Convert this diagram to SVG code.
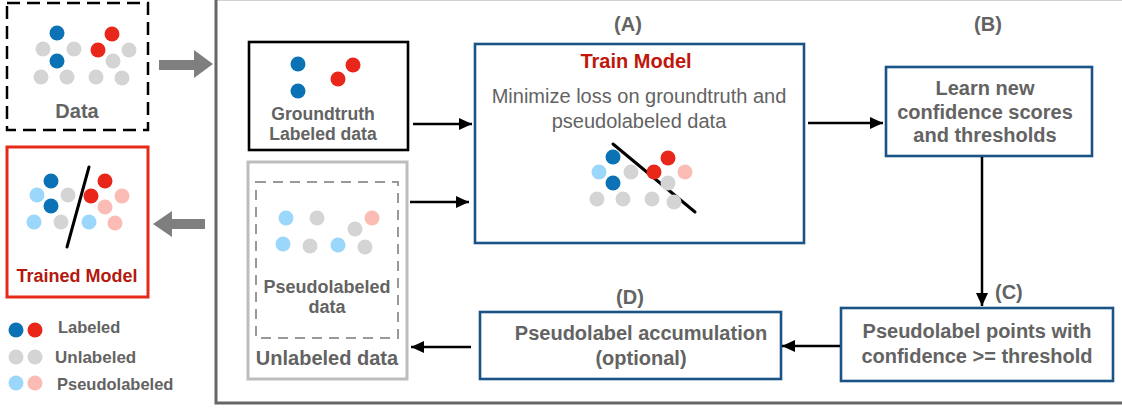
<svg xmlns="http://www.w3.org/2000/svg" width="1122" height="408" viewBox="0 0 1122 408">
  <defs>
    <marker id="arrow" markerUnits="userSpaceOnUse" markerWidth="13" markerHeight="12" refX="13" refY="6" orient="auto">
      <path d="M0,0 L13,6 L0,12 Z" fill="#000"/>
    </marker>
    <style>
      text { font-family: "Liberation Sans", Arial, Helvetica, sans-serif; fill: #636363; }
      .bold { font-weight: bold; }
      .mid { text-anchor: middle; }
      .t20 { font-size: 20px; }
      .b { fill: #0b72b5; }
      .r { fill: #e8261a; }
      .g { fill: #d4d4d4; }
      .lb { fill: #9bd6fb; }
      .p { fill: #fbbcb5; }
      .blue-box { fill: #fff; stroke: #1a5486; stroke-width: 2.6; }
      .conn { stroke: #000; stroke-width: 2.5; fill: none; marker-end: url(#arrow); }
      .big-arrow { fill: #7f7f7f; }
      .sep { stroke: #000; stroke-width: 3; stroke-linecap: round; }
    </style>
  </defs>

  <rect width="1122" height="408" fill="#fff"/>

  <!-- outer frame around the training loop (top and right edges run off the canvas) -->
  <rect x="216" y="-1.2" width="912" height="404.2" fill="none" stroke="#666" stroke-width="3"/>

  <!-- input data -->
  <g id="data">
    <rect x="7" y="3" width="141" height="127" fill="none" stroke="#000" stroke-width="2.5" stroke-dasharray="13,7"/>
    <g>
      <circle class="g" cx="43" cy="49" r="7.5"/>
      <circle class="g" cx="74" cy="49" r="7.5"/>
      <circle class="g" cx="41" cy="77" r="7.5"/>
      <circle class="g" cx="67" cy="77" r="7.5"/>
      <circle class="g" cx="129" cy="50" r="7.5"/>
      <circle class="g" cx="113" cy="61" r="7.5"/>
      <circle class="g" cx="96" cy="77" r="7.5"/>
      <circle class="g" cx="122" cy="78" r="7.5"/>
      <circle class="b" cx="57" cy="33" r="7.5"/>
      <circle class="b" cx="57" cy="61" r="7.5"/>
      <circle class="r" cx="112" cy="34" r="7.5"/>
      <circle class="r" cx="98" cy="50" r="7.5"/>
    </g>
    <text class="bold t20 mid" x="77" y="118">Data</text>
  </g>

  <!-- trained model output -->
  <g id="trained-model">
    <rect x="7" y="147" width="141" height="150" fill="none" stroke="#e52a1a" stroke-width="3"/>
    <circle class="lb" cx="37" cy="195" r="7.5"/>
    <circle class="lb" cx="34" cy="222" r="7.5"/>
    <circle class="lb" cx="89" cy="222" r="7.5"/>
    <circle class="g" cx="68" cy="195" r="7.5"/>
    <circle class="g" cx="61" cy="222" r="7.5"/>
    <circle class="b" cx="51" cy="181" r="7.5"/>
    <circle class="b" cx="51" cy="206" r="7.5"/>
    <circle class="p" cx="122" cy="196" r="7.5"/>
    <circle class="p" cx="105" cy="207" r="7.5"/>
    <circle class="p" cx="115" cy="223" r="7.5"/>
    <circle class="r" cx="105" cy="181" r="7.5"/>
    <circle class="r" cx="91" cy="196" r="7.5"/>
    <line class="sep" x1="89" y1="167" x2="67" y2="247"/>
    <text class="bold mid" x="77" y="282" font-size="18" style="fill:#b5180f">Trained Model</text>
  </g>

  <!-- legend -->
  <g id="legend">
    <circle class="b" cx="16" cy="330" r="7.5"/>
    <circle class="r" cx="35" cy="330" r="7.5"/>
    <text class="bold" x="58" y="333" font-size="16.5">Labeled</text>
    <circle class="g" cx="16" cy="357" r="7.5"/>
    <circle class="g" cx="35" cy="357" r="7.5"/>
    <text class="bold" x="55" y="363" font-size="17">Unlabeled</text>
    <circle class="lb" cx="16" cy="383" r="7.5"/>
    <circle class="p" cx="35" cy="383" r="7.5"/>
    <text class="bold" x="57" y="390" font-size="16.5">Pseudolabeled</text>
  </g>

  <!-- big gray flow arrows -->
  <polygon class="big-arrow" points="159,60 194,60 194,50 213,64 194,78 194,70 159,70"/>
  <polygon class="big-arrow" points="205,219 172,219 172,211 153,224 172,237 172,229 205,229"/>

  <!-- groundtruth labeled data -->
  <g id="groundtruth">
    <rect x="249" y="42" width="159" height="108" fill="#fff" stroke="#000" stroke-width="2.6"/>
    <circle class="b" cx="298" cy="64" r="7.5"/>
    <circle class="b" cx="298" cy="91" r="7.5"/>
    <circle class="r" cx="353" cy="65" r="7.5"/>
    <circle class="r" cx="338" cy="79" r="7.5"/>
    <text class="bold mid" x="323" y="120" font-size="17.6">Groundtruth</text>
    <text class="bold mid" x="323" y="140" font-size="17.6">Labeled data</text>
  </g>

  <!-- unlabeled data with pseudolabeled subset -->
  <g id="unlabeled">
    <rect x="248" y="162" width="159" height="217" fill="#fff" stroke="#bdbdbd" stroke-width="3"/>
    <rect x="256" y="182" width="142" height="156" fill="none" stroke="#999" stroke-width="2" stroke-dasharray="10,7"/>
    <circle class="lb" cx="286" cy="218" r="7.5"/>
    <circle class="lb" cx="283" cy="244" r="7.5"/>
    <circle class="lb" cx="338" cy="245" r="7.5"/>
    <circle class="g" cx="317" cy="218" r="7.5"/>
    <circle class="g" cx="355" cy="229" r="7.5"/>
    <circle class="g" cx="310" cy="246" r="7.5"/>
    <circle class="g" cx="365" cy="247" r="7.5"/>
    <circle class="p" cx="372" cy="218" r="7.5"/>
    <text class="bold mid" x="327" y="293" font-size="18">Pseudolabeled</text>
    <text class="bold mid" x="327" y="313" font-size="18">data</text>
    <text class="bold mid t20" x="327" y="365">Unlabeled data</text>
  </g>

  <!-- (A) train model -->
  <g id="train-model">
    <text class="bold mid t20" x="628" y="31">(A)</text>
    <rect class="blue-box" x="475" y="44" width="329" height="199"/>
    <text class="bold mid t20" x="636" y="68" style="fill:#c0170c">Train Model</text>
    <text class="mid t20" x="639" y="103">Minimize loss on groundtruth and</text>
    <text class="mid t20" x="639" y="128">pseudolabeled data</text>
    <line class="sep" x1="613" y1="144" x2="695" y2="212"/>
    <circle class="lb" cx="599" cy="172" r="7.5"/>
    <circle class="g" cx="631" cy="172" r="7.5"/>
    <circle class="g" cx="668" cy="183" r="7.5"/>
    <circle class="g" cx="597" cy="199" r="7.5"/>
    <circle class="g" cx="623" cy="199" r="7.5"/>
    <circle class="g" cx="652" cy="199" r="7.5"/>
    <circle class="g" cx="674" cy="202" r="7.5"/>
    <circle class="b" cx="613" cy="157" r="7.5"/>
    <circle class="b" cx="613" cy="183" r="7.5"/>
    <circle class="r" cx="668" cy="158" r="7.5"/>
    <circle class="r" cx="654" cy="172" r="7.5"/>
    <circle class="p" cx="685" cy="172" r="7.5"/>
  </g>

  <!-- (B) learn confidence -->
  <g id="learn-confidence">
    <text class="bold mid t20" x="988" y="31">(B)</text>
    <rect class="blue-box" x="886" y="67" width="206" height="89"/>
    <text class="bold mid t20" x="985" y="95">Learn new</text>
    <text class="bold mid t20" x="985" y="119">confidence scores</text>
    <text class="bold mid t20" x="985" y="142">and thresholds</text>
  </g>

  <!-- (C) pseudolabel points -->
  <g id="pseudolabel-points">
    <text class="bold t20" x="995" y="299">(C)</text>
    <rect class="blue-box" x="841" y="308" width="272" height="73"/>
    <text class="bold mid t20" x="977" y="338">Pseudolabel points with</text>
    <text class="bold mid t20" x="977" y="363">confidence &gt;= threshold</text>
  </g>

  <!-- (D) accumulation -->
  <g id="accumulation">
    <text class="bold mid t20" x="630" y="304">(D)</text>
    <rect class="blue-box" x="480" y="312" width="301" height="67"/>
    <text class="bold mid t20" x="641" y="340">Pseudolabel accumulation</text>
    <text class="bold mid t20" x="641" y="365">(optional)</text>
  </g>

  <!-- connectors -->
  <g id="connectors">
    <line class="conn" x1="413" y1="124" x2="472" y2="124"/>
    <line class="conn" x1="410" y1="202" x2="469" y2="202"/>
    <line class="conn" x1="808" y1="123" x2="883" y2="123"/>
    <line class="conn" x1="982" y1="157" x2="982" y2="306"/>
    <line class="conn" x1="840" y1="346" x2="782" y2="346"/>
    <line class="conn" x1="471" y1="347" x2="411" y2="347"/>
  </g>
</svg>
